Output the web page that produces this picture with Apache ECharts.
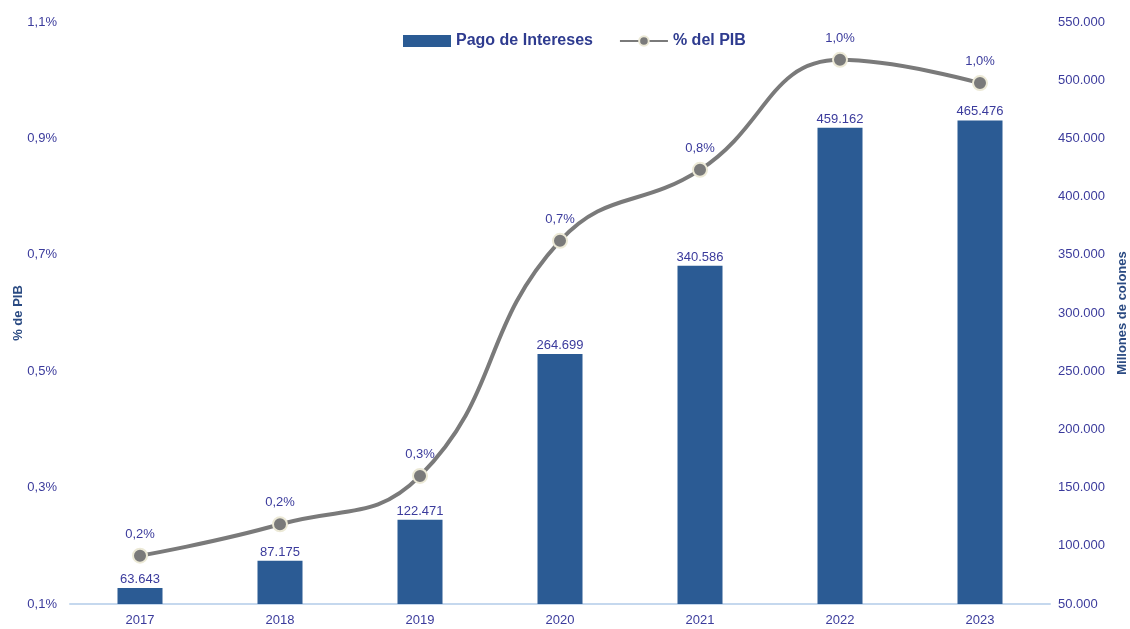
<!DOCTYPE html>
<html>
<head>
<meta charset="utf-8">
<script src="https://cdn.jsdelivr.net/npm/echarts@6/dist/echarts.min.js"></script>
<style>
  html, body { margin: 0; padding: 0; background: #fff; }
  #chart { width: 1130px; height: 629px; }
</style>
</head>
<body>
<div id="chart"></div>
<script>
const years = ['2017', '2018', '2019', '2020', '2021', '2022', '2023'];
const pagoIntereses = [63643, 87175, 122471, 264699, 340586, 459162, 465476];
const pctPib = [0.183, 0.237, 0.32, 0.724, 0.846, 1.035, 0.995];

const textColor = '#3b3b9c';
const titleColor = '#2a4a82';
const fontFamily = '"Liberation Sans Narrow", "Liberation Sans", Arial, sans-serif';

const fmtMiles = v => Math.round(v).toString().replace(/\B(?=(\d{3})+(?!\d))/g, '.');
const fmtPct = v => v.toFixed(1).replace('.', ',') + '%';

const chart = echarts.init(document.getElementById('chart'));

const option = {
  animation: false,
  textStyle: { fontFamily: fontFamily },
  legend: {
    top: 28,
    left: 398,
    itemGap: 26,
    itemWidth: 48,
    itemHeight: 12,
    textStyle: { color: '#2e3b8f', fontSize: 16, fontWeight: 'bold', fontFamily: fontFamily },
    data: [
      { name: 'Pago de Intereses', icon: 'rect' },
      { name: '% del PIB' }
    ]
  },
  grid: { left: 70, right: 80, top: 22, bottom: 25, containLabel: false, outerBoundsMode: 'none' },
  xAxis: {
    type: 'category',
    data: years,
    axisLine: { lineStyle: { color: '#c5d8ee', width: 2 } },
    axisTick: { show: false },
    axisLabel: { color: textColor, fontSize: 13, margin: 10 }
  },
  yAxis: [
    {
      type: 'value',
      name: '% de PIB',
      nameLocation: 'middle',
      nameGap: 45,
      nameMoveOverlap: false,
      nameTextStyle: { color: titleColor, fontSize: 13, fontWeight: 'bold' },
      min: 0.1,
      max: 1.1,
      interval: 0.2,
      axisLine: { show: false },
      axisTick: { show: false },
      splitLine: { show: false },
      axisLabel: { color: textColor, fontSize: 13, margin: 13, formatter: v => fmtPct(v) }
    },
    {
      type: 'value',
      name: 'Millones de colones',
      nameLocation: 'middle',
      nameGap: 66,
      nameMoveOverlap: false,
      nameTextStyle: { color: titleColor, fontSize: 13, fontWeight: 'bold' },
      min: 50000,
      max: 550000,
      interval: 50000,
      axisLine: { show: false },
      axisTick: { show: false },
      splitLine: { show: false },
      axisLabel: { color: textColor, fontSize: 13, margin: 8, formatter: v => fmtMiles(v) }
    }
  ],
  series: [
    {
      name: 'Pago de Intereses',
      type: 'bar',
      yAxisIndex: 1,
      data: pagoIntereses,
      barWidth: 45,
      itemStyle: { color: '#2b5b94' },
      label: {
        show: true,
        position: 'top',
        distance: 2,
        color: textColor,
        fontSize: 13,
        formatter: p => fmtMiles(p.value)
      }
    },
    {
      name: '% del PIB',
      type: 'line',
      yAxisIndex: 0,
      data: pctPib,
      smooth: 0.45,
      symbol: 'circle',
      symbolSize: 14,
      lineStyle: { color: '#7a7a7a', width: 4 },
      itemStyle: { color: '#7a7a7a', borderColor: '#ece9d6', borderWidth: 2 },
      label: {
        show: true,
        position: 'top',
        distance: 7,
        color: textColor,
        fontSize: 13,
        formatter: p => fmtPct(p.value)
      },
      z: 5
    }
  ]
};

chart.setOption(option);
</script>
</body>
</html>
